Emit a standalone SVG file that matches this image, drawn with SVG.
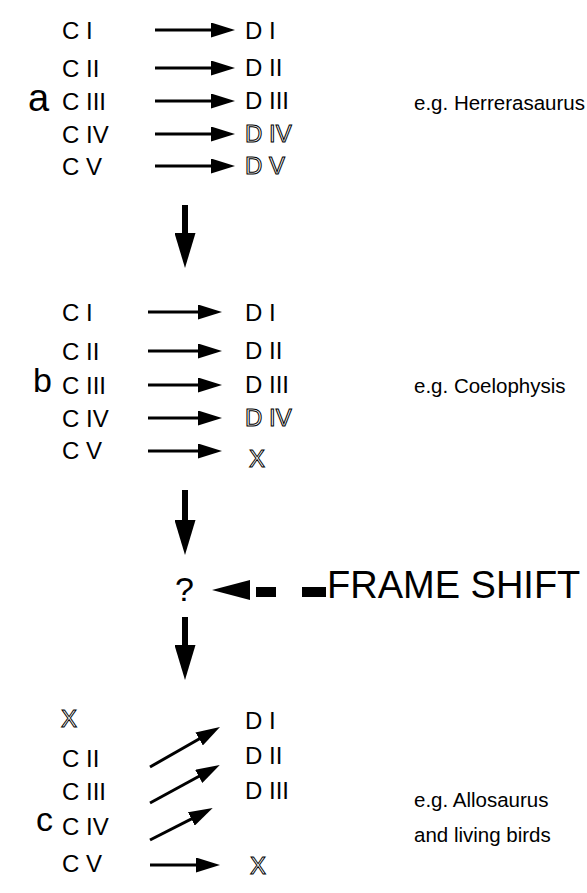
<svg xmlns="http://www.w3.org/2000/svg" width="587" height="893" viewBox="0 0 587 893">
<style>
.t{font-family:"Liberation Sans",Arial,sans-serif;font-size:24px;fill:#000}
.o{font-family:"Liberation Sans",Arial,sans-serif;font-size:24px;fill:#fff;stroke:#000;stroke-width:1}
.eg{font-family:"Liberation Sans",Arial,sans-serif;font-size:20.5px;fill:#000}
.lab{font-family:"Liberation Sans",Arial,sans-serif;font-size:34px;fill:#000}
.fs{font-family:"Liberation Sans",Arial,sans-serif;font-size:38px;fill:#000}
.ln{stroke:#000;stroke-width:3;fill:none}
.sh{stroke:#000;stroke-width:6;fill:none}
</style>
<defs>
<marker id="h" markerUnits="userSpaceOnUse" markerWidth="24" markerHeight="15" refX="14" refY="7.5" orient="auto" viewBox="0 0 24 15">
<path d="M0,0 L24,7.5 L0,15 z" fill="#000"/>
</marker>
<marker id="v" markerUnits="userSpaceOnUse" markerWidth="35" markerHeight="21" refX="5" refY="10.5" orient="auto" viewBox="0 0 35 21">
<path d="M0,0 L35,10.5 L0,21 z" fill="#000"/>
</marker>
</defs>
<g id="panel-a">
<text id="a-label" class="lab" x="28" y="111" style="font-size:38px">a</text>
<g id="a-C1"><text class="t" x="62" y="39">C I</text></g>
<g id="a-C2"><text class="t" x="62" y="77">C II</text></g>
<g id="a-C3"><text class="t" x="62" y="110">C III</text></g>
<g id="a-C4"><text class="t" x="62" y="143">C IV</text></g>
<g id="a-C5"><text class="t" x="62" y="175">C V</text></g>
<g id="a-D1"><text class="t" x="245" y="39">D I</text></g>
<g id="a-D2"><text class="t" x="245" y="76">D II</text></g>
<g id="a-D3"><text class="t" x="245" y="109">D III</text></g>
<g id="a-D4"><text class="o" x="245" y="142">D IV</text></g>
<g id="a-D5"><text class="o" x="245" y="174">D V</text></g>
<g id="a-eg"><text class="eg" x="414" y="110">e.g. Herrerasaurus</text></g>
</g>
<g id="panel-b">
<text id="b-label" class="lab" x="33" y="392">b</text>
<g id="b-C1"><text class="t" x="62" y="321">C I</text></g>
<g id="b-C2"><text class="t" x="62" y="360">C II</text></g>
<g id="b-C3"><text class="t" x="62" y="394">C III</text></g>
<g id="b-C4"><text class="t" x="62" y="427">C IV</text></g>
<g id="b-C5"><text class="t" x="62" y="459">C V</text></g>
<g id="b-D1"><text class="t" x="245" y="321">D I</text></g>
<g id="b-D2"><text class="t" x="245" y="359">D II</text></g>
<g id="b-D3"><text class="t" x="245" y="393">D III</text></g>
<g id="b-D4"><text class="o" x="245" y="426">D IV</text></g>
<g id="b-X"><text class="o" x="249" y="467">X</text></g>
<g id="b-eg"><text class="eg" x="414" y="393">e.g. Coelophysis</text></g>
</g>
<g id="frame-shift">
<g id="q"><text class="lab" x="175" y="601">?</text></g>
<g id="fs-label"><text class="fs" x="327" y="598">FRAME SHIFT</text></g>
</g>
<g id="panel-c">
<text id="c-label" class="lab" x="36" y="831">c</text>
<g id="c-X"><text class="o" x="61" y="727">X</text></g>
<g id="c-C2"><text class="t" x="62" y="767">C II</text></g>
<g id="c-C3"><text class="t" x="62" y="800">C III</text></g>
<g id="c-C4"><text class="t" x="62" y="835">C IV</text></g>
<g id="c-C5"><text class="t" x="62" y="872">C V</text></g>
<g id="c-D1"><text class="t" x="245" y="729">D I</text></g>
<g id="c-D2"><text class="t" x="245" y="764">D II</text></g>
<g id="c-D3"><text class="t" x="245" y="799">D III</text></g>
<g id="c-X2"><text class="o" x="250" y="874">X</text></g>
<g id="c-eg"><text class="eg" x="414" y="807">e.g. Allosaurus</text><text class="eg" x="414" y="842">and living birds</text></g>
</g>
<g id="connectors">
<line class="ln" x1="155" y1="30" x2="225" y2="30" marker-end="url(#h)"/>
<line class="ln" x1="155" y1="68" x2="225" y2="68" marker-end="url(#h)"/>
<line class="ln" x1="155" y1="101" x2="225" y2="101" marker-end="url(#h)"/>
<line class="ln" x1="155" y1="134" x2="225" y2="134" marker-end="url(#h)"/>
<line class="ln" x1="155" y1="166" x2="225" y2="166" marker-end="url(#h)"/>
<line class="sh" x1="185" y1="205" x2="185" y2="238" marker-end="url(#v)"/>
<line class="ln" x1="148" y1="312" x2="212" y2="312" marker-end="url(#h)"/>
<line class="ln" x1="148" y1="351" x2="212" y2="351" marker-end="url(#h)"/>
<line class="ln" x1="148" y1="385" x2="212" y2="385" marker-end="url(#h)"/>
<line class="ln" x1="148" y1="418" x2="212" y2="418" marker-end="url(#h)"/>
<line class="ln" x1="148" y1="451" x2="212" y2="451" marker-end="url(#h)"/>
<line class="sh" x1="185" y1="490" x2="185" y2="525" marker-end="url(#v)"/>
<polygon points="212,590 250,580 250,600" fill="#000"/>
<rect x="256" y="587" width="20" height="10" fill="#000"/>
<rect x="302" y="587" width="24" height="10" fill="#000"/>
<line class="sh" x1="185" y1="617" x2="185" y2="650" marker-end="url(#v)"/>
<line class="ln" x1="150" y1="767" x2="211.3" y2="732" marker-end="url(#h)"/>
<line class="ln" x1="150" y1="803" x2="211" y2="769.7" marker-end="url(#h)"/>
<line class="ln" x1="150" y1="840" x2="203.8" y2="812.6" marker-end="url(#h)"/>
<line class="ln" x1="150" y1="865" x2="210" y2="865" marker-end="url(#h)"/>
</g>
</svg>
